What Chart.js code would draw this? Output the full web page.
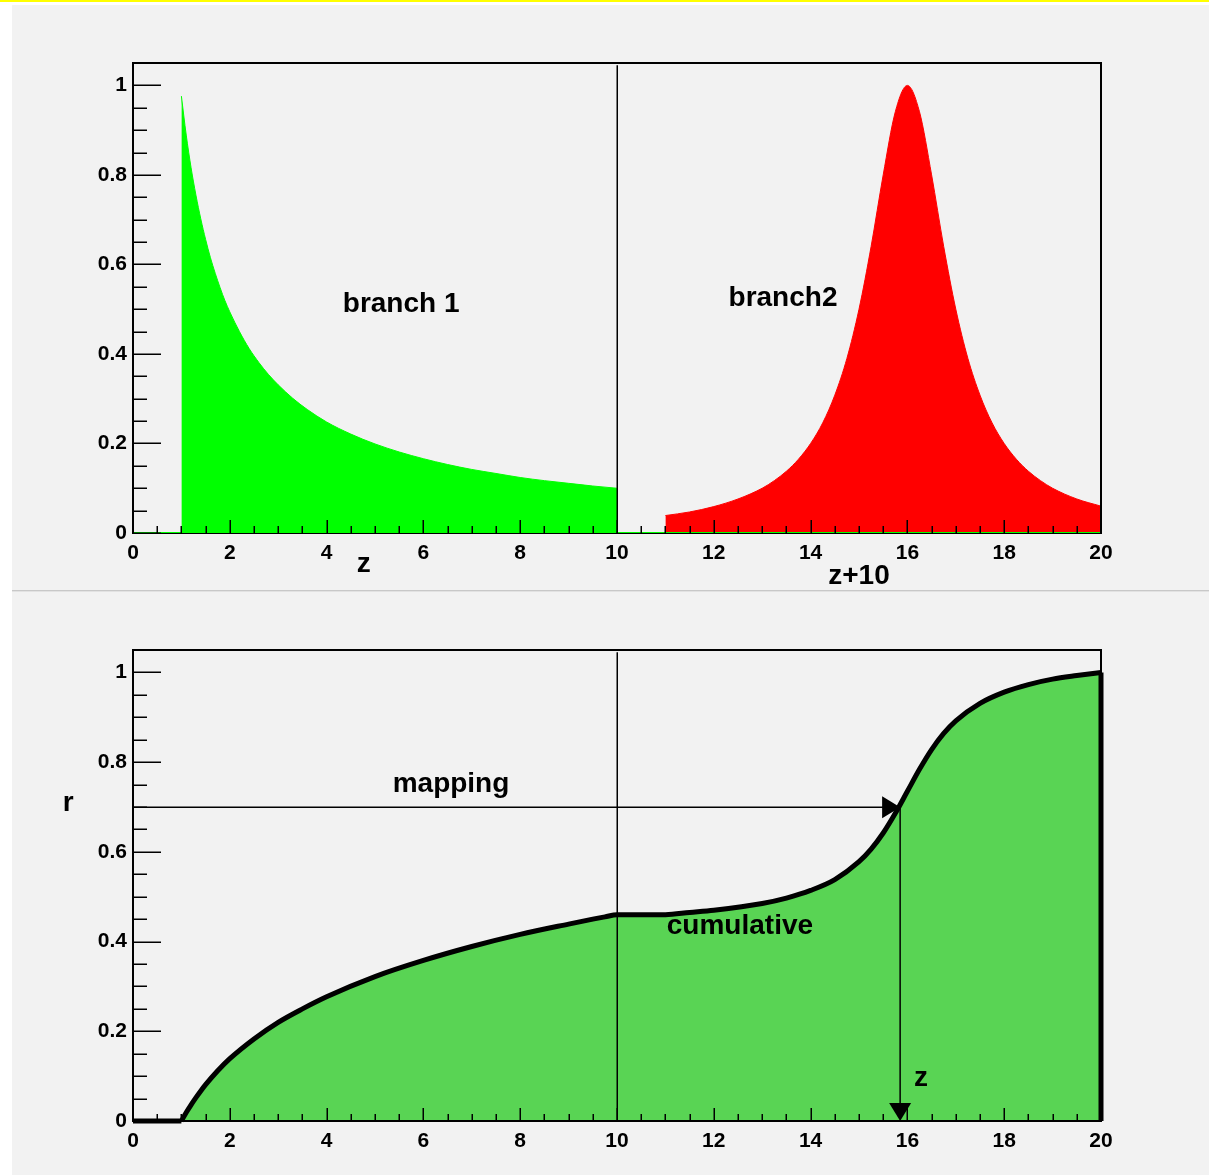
<!DOCTYPE html>
<html>
<head>
<meta charset="utf-8">
<script src="https://cdn.jsdelivr.net/npm/chart.js@4.4.1/dist/chart.umd.min.js"></script>
<style>
  html, body { margin: 0; padding: 0; background: #fff; }
  body { width: 1209px; height: 1175px; position: relative; overflow: hidden; }
  #topbar { position: absolute; left: 0; top: 0; width: 1209px; height: 2px; background: #ffff00; }
  .pad { position: absolute; left: 12px; background: #f2f2f2; }
  #padTop { top: 5px; }
  #padBottom { top: 592px; }
  #sep1 { position: absolute; left: 12px; top: 590px; width: 1197px; height: 1px; background: #c8c8c8; }
  #sep2 { position: absolute; left: 12px; top: 591px; width: 1197px; height: 1px; background: #e2e2e2; }
</style>
</head>
<body>
<div id="topbar"></div>
<canvas id="padTop" class="pad" width="1197" height="585"></canvas>
<div id="sep1"></div><div id="sep2"></div>
<canvas id="padBottom" class="pad" width="1197" height="583"></canvas>
<script>
// branch 1: falling spectrum on z = 1..10
const greenZ   = [1.0, 1.1, 1.2, 1.3, 1.4, 1.5, 1.6, 1.7, 1.8, 1.9, 2.0, 2.2, 2.4, 2.6, 2.8, 3.0, 3.3, 3.6, 4.0, 4.5, 5.0, 5.5, 6.0, 6.5, 7.0, 7.5, 8.0, 8.5, 9.0, 9.5, 10.0];
const greenVal = [0.976, 0.889, 0.816, 0.755, 0.702, 0.656, 0.615, 0.580, 0.548, 0.519, 0.494, 0.450, 0.412, 0.381, 0.354, 0.331, 0.301, 0.276, 0.248, 0.221, 0.199, 0.181, 0.166, 0.153, 0.142, 0.133, 0.124, 0.117, 0.111, 0.105, 0.100];

// branch 2: peak at z+10 = 16
const redZ   = [11.0, 11.5, 12.0, 12.5, 13.0, 13.25, 13.5, 13.75, 14.0, 14.25, 14.5, 14.75, 15.0, 15.25, 15.5, 15.75, 16.0, 16.25, 16.5, 16.75, 17.0, 17.25, 17.5, 17.75, 18.0, 18.25, 18.5, 18.75, 19.0, 19.5, 20.0];
const redVal = [0.039, 0.047, 0.059, 0.076, 0.100, 0.117, 0.138, 0.165, 0.200, 0.246, 0.308, 0.390, 0.500, 0.640, 0.800, 0.941, 1.000, 0.941, 0.800, 0.640, 0.500, 0.390, 0.308, 0.246, 0.200, 0.165, 0.138, 0.117, 0.100, 0.076, 0.060];

// cumulative r(z)
const cumZ   = [1.0, 1.1, 1.2, 1.3, 1.4, 1.5, 1.75, 2.0, 2.5, 3.0, 3.5, 4.0, 5.0, 6.0, 7.0, 8.0, 9.0, 9.5, 9.75, 10.0, 11.0, 11.5, 12.0, 13.0, 13.5, 14.0, 14.5, 15.0, 15.25, 15.5, 15.75, 16.0, 16.25, 16.5, 16.75, 17.0, 17.5, 18.0, 18.5, 19.0, 19.5, 20.0];
const cumVal = [0.000, 0.019, 0.036, 0.052, 0.067, 0.081, 0.112, 0.139, 0.183, 0.220, 0.250, 0.277, 0.322, 0.358, 0.389, 0.416, 0.439, 0.450, 0.455, 0.460, 0.460, 0.465, 0.470, 0.485, 0.497, 0.514, 0.538, 0.578, 0.606, 0.642, 0.686, 0.735, 0.784, 0.828, 0.864, 0.892, 0.931, 0.956, 0.973, 0.985, 0.993, 1.000];

const xTicks = [0, 2, 4, 6, 8, 10, 12, 14, 16, 18, 20];
const xTickLabels = ['0', '2', '4', '6', '8', '10', '12', '14', '16', '18', '20'];
const yTicks = [0, 0.2, 0.4, 0.6, 0.8, 1];
const yTickLabels = ['0', '0.2', '0.4', '0.6', '0.8', '1'];

const splitZ = 10;      // branch boundary
const mappingR = 0.70;  // r picked for the mapping arrow
const mappingZ = 15.85; // z it maps to

const FONT = '"Liberation Sans", Arial, Helvetica, sans-serif';
Chart.defaults.font.family = FONT;

function pts(xs, ys) {
  return xs.map((x, i) => ({ x: x, y: ys[i] }));
}

function axes(xHeight) {
  const tickFont = { family: FONT, size: 21, weight: 'bold' };
  return {
    x: {
      type: 'linear', min: 0, max: 20,
      grid: { display: false, drawTicks: false },
      border: { display: false },
      afterBuildTicks: s => { s.ticks = xTicks.map(v => ({ value: v })); },
      afterFit: s => { s.height = xHeight; },
      ticks: { padding: 8, color: '#000', font: tickFont, maxRotation: 0, autoSkip: false,
               callback: (v, i) => xTickLabels[i] }
    },
    y: {
      type: 'linear', min: 0, max: 1.05,
      grid: { display: false, drawTicks: false },
      border: { display: false },
      afterBuildTicks: s => { s.ticks = yTicks.map(v => ({ value: v })); },
      afterFit: s => { s.width = 121; },
      ticks: { padding: 6, color: '#000', font: tickFont, autoSkip: false,
               callback: (v, i) => yTickLabels[i] }
    }
  };
}

// ROOT-like frame with ticks drawn inside the frame
function framePlugin(bottomUnder) {
  function bottomLine(chart) {
    const { ctx, chartArea: a } = chart;
    ctx.save();
    ctx.strokeStyle = '#000';
    ctx.lineWidth = 2;
    ctx.beginPath();
    ctx.moveTo(a.left - 1, a.bottom);
    ctx.lineTo(a.right + 1, a.bottom);
    ctx.stroke();
    ctx.restore();
  }
  return {
    id: 'frame',
    beforeDatasetsDraw(chart) { if (bottomUnder) bottomLine(chart); },
    afterDatasetsDraw(chart) {
      const { ctx, chartArea: a, scales: { x, y } } = chart;
      ctx.save();
      ctx.strokeStyle = '#000';
      ctx.lineWidth = 1.5;
      ctx.beginPath();
      for (let k = 0; k <= 21; k++) {
        const py = Math.round(y.getPixelForValue(k * 0.05)) + 0.25;
        ctx.moveTo(a.left, py);
        ctx.lineTo(a.left + (k % 4 === 0 ? 28 : 14), py);
      }
      for (let k = 0; k <= 40; k++) {
        const px = Math.round(x.getPixelForValue(k * 0.5)) + 0.25;
        ctx.moveTo(px, a.bottom);
        ctx.lineTo(px, a.bottom - (k % 4 === 0 ? 13 : 7));
      }
      ctx.stroke();
      ctx.lineWidth = 2;
      ctx.beginPath();
      ctx.moveTo(a.left, a.bottom + 1);
      ctx.lineTo(a.left, a.top);
      ctx.lineTo(a.right, a.top);
      ctx.lineTo(a.right, a.bottom + 1);
      ctx.stroke();
      ctx.restore();
      if (!bottomUnder) bottomLine(chart);
    }
  };
}

// boundary line, arrows and text
function overlayPlugin(texts, arrows) {
  return {
    id: 'overlay',
    afterDraw(chart) {
      const { ctx, scales: { x, y } } = chart;
      ctx.save();
      ctx.strokeStyle = '#000';
      ctx.fillStyle = '#000';
      ctx.lineWidth = 1.5;
      const sx = Math.round(x.getPixelForValue(splitZ)) + 0.25;
      ctx.beginPath();
      ctx.moveTo(sx, y.getPixelForValue(0));
      ctx.lineTo(sx, y.getPixelForValue(1.045));
      ctx.stroke();

      if (arrows) {
        const ax = x.getPixelForValue(mappingZ);
        const ay = Math.round(y.getPixelForValue(mappingR)) + 0.25;
        const x0 = x.getPixelForValue(0);
        const y0 = y.getPixelForValue(0);
        ctx.beginPath();
        ctx.moveTo(x0, ay); ctx.lineTo(ax - 4, ay);
        ctx.moveTo(ax, ay); ctx.lineTo(ax, y0 - 4);
        ctx.stroke();
        ctx.beginPath();
        ctx.moveTo(ax, ay); ctx.lineTo(ax - 18, ay - 11); ctx.lineTo(ax - 18, ay + 11); ctx.closePath();
        ctx.fill();
        ctx.beginPath();
        ctx.moveTo(ax, y0); ctx.lineTo(ax - 11, y0 - 18); ctx.lineTo(ax + 11, y0 - 18); ctx.closePath();
        ctx.fill();
      }

      ctx.font = 'bold 28px ' + FONT;
      ctx.textAlign = 'center';
      ctx.textBaseline = 'alphabetic';
      texts.forEach(t => ctx.fillText(t.text, x.getPixelForValue(t.x), y.getPixelForValue(t.y)));
      ctx.restore();
    }
  };
}

const common = {
  responsive: false,
  devicePixelRatio: 1,
  animation: false,
  events: [],
  plugins: { legend: { display: false }, tooltip: { enabled: false } }
};

new Chart(document.getElementById('padTop'), {
  type: 'line',
  data: {
    datasets: [
      { data: [{ x: 0, y: 0 }, { x: 1, y: 0 }, { x: 5, y: null }, { x: 10, y: 0 }, { x: 20, y: 0 }],
        borderColor: '#00ff00', borderWidth: 2, pointRadius: 0, fill: false, spanGaps: false, order: 0 },
      { data: pts(greenZ, greenVal), borderColor: '#00ff00', backgroundColor: '#00ff00', borderWidth: 1,
        pointRadius: 0, fill: 'origin', cubicInterpolationMode: 'monotone', order: 1 },
      { data: pts(redZ, redVal), borderColor: '#ff0000', backgroundColor: '#ff0000', borderWidth: 1,
        pointRadius: 0, fill: 'origin', cubicInterpolationMode: 'monotone', order: 1 }
    ]
  },
  options: Object.assign({}, common, {
    layout: { padding: { top: 58, right: 108, left: 0, bottom: 0 } },
    scales: axes(57)
  }),
  plugins: [framePlugin(true), overlayPlugin([
    { text: 'branch 1', x: 5.54, y: 0.493 },
    { text: 'branch2', x: 13.43, y: 0.508 },
    { text: 'z', x: 4.77, y: -0.088 },
    { text: 'z+10', x: 15.0, y: -0.115 }
  ], false)]
});

new Chart(document.getElementById('padBottom'), {
  type: 'line',
  data: {
    datasets: [
      { data: [{ x: 0, y: 0 }, { x: 1, y: 0 }], borderColor: '#000', borderWidth: 5, pointRadius: 0,
        fill: false, order: 0, clip: 8 },
      { data: [{ x: 20, y: 0 }, { x: 20, y: 1 }], borderColor: '#000', borderWidth: 5, pointRadius: 0,
        fill: false, order: 0, clip: 8 },
      { data: pts(cumZ, cumVal), borderColor: '#000', backgroundColor: '#59d454', borderWidth: 5,
        borderJoinStyle: 'round', pointRadius: 0, fill: 'origin', cubicInterpolationMode: 'monotone',
        order: 1, clip: 8 }
    ]
  },
  options: Object.assign({}, common, {
    layout: { padding: { top: 58, right: 108, left: 0, bottom: 0 } },
    scales: axes(54)
  }),
  plugins: [framePlugin(false), overlayPlugin([
    { text: 'mapping', x: 6.57, y: 0.734 },
    { text: 'cumulative', x: 12.54, y: 0.417 },
    { text: 'z', x: 16.28, y: 0.078 },
    { text: 'r', x: -1.34, y: 0.692 }
  ], true)]
});
</script>
</body>
</html>
